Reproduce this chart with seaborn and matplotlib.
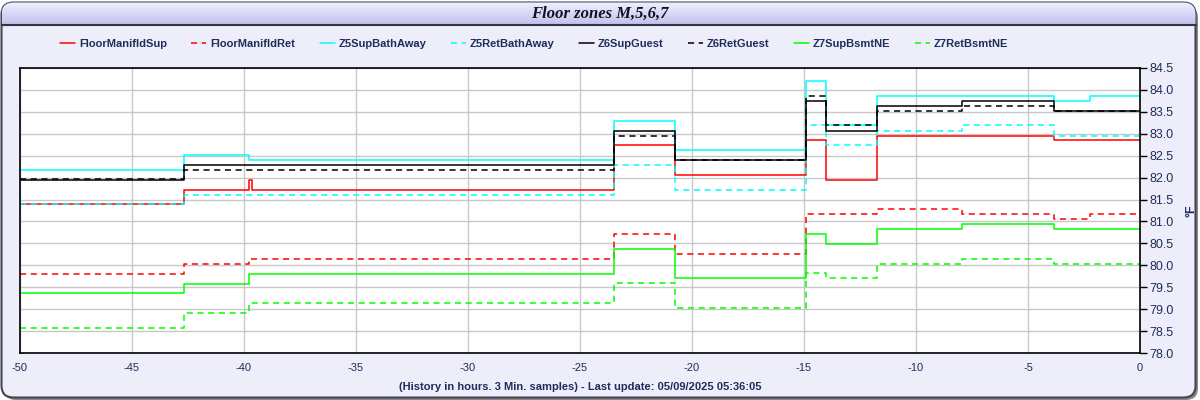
import numpy as np
import pandas as pd
import seaborn as sns
import matplotlib.pyplot as plt
from matplotlib.patches import FancyBboxPatch
from matplotlib.colors import LinearSegmentedColormap

# step breakpoints (hours before now)
hours = [-50, -42.67, -39.76, -39.66, -23.5, -20.76, -14.9, -14.0, -11.75, -7.96, -3.84, -2.24, 0]

floor_manifld_sup = [81.39, 81.72, 81.95, 81.72, 82.74, 82.07, 82.85, 81.95, 82.96, 82.96, 82.85, 82.85, 82.85]
floor_manifld_ret = [79.81, 80.04, 80.15, 80.15, 80.71, 80.26, 81.16, 81.16, 81.28, 81.16, 81.05, 81.16, 81.16]
z5_sup_bath_away = [82.17, 82.51, 82.41, 82.41, 83.30, 82.62, 84.21, 83.19, 83.87, 83.87, 83.75, 83.87, 83.87]
z5_ret_bath_away = [81.39, 81.61, 81.61, 81.61, 82.29, 81.72, 83.19, 82.74, 83.07, 83.19, 82.96, 82.96, 82.96]
z6_sup_guest = [81.95, 82.29, 82.29, 82.29, 83.07, 82.41, 83.75, 83.07, 83.64, 83.75, 83.53, 83.53, 83.53]
z6_ret_guest = [81.97, 82.17, 82.17, 82.17, 82.96, 82.41, 83.87, 83.19, 83.53, 83.64, 83.53, 83.53, 83.53]
z7_sup_bsmt_ne = [79.36, 79.58, 79.81, 79.81, 80.37, 79.70, 80.71, 80.49, 80.83, 80.94, 80.83, 80.83, 80.83]
z7_ret_bsmt_ne = [78.58, 78.91, 79.13, 79.13, 79.59, 79.02, 79.82, 79.70, 80.04, 80.15, 80.04, 80.04, 80.04]

series_names = ["FloorManifldSup", "FloorManifldRet", "Z5SupBathAway", "Z5RetBathAway",
                "Z6SupGuest", "Z6RetGuest", "Z7SupBsmtNE", "Z7RetBsmtNE"]
series_values = [floor_manifld_sup, floor_manifld_ret, z5_sup_bath_away, z5_ret_bath_away,
                 z6_sup_guest, z6_ret_guest, z7_sup_bsmt_ne, z7_ret_bsmt_ne]
colors = ["#ff0000", "#ff0000", "#00ffff", "#00ffff", "#000000", "#000000", "#00ff00", "#00ff00"]

x_ticks = list(range(-50, 1, 5))
y_ticks = [78.0 + 0.5 * i for i in range(14)]

frames = []
for name, vals in zip(series_names, series_values):
    frames.append(pd.DataFrame({"hours": hours, "temp": vals, "series": name}))
df = pd.concat(frames, ignore_index=True)

sns.set_style("white")
plt.rcParams['font.family'] = ['Liberation Sans', 'DejaVu Sans']
plt.rcParams['axes.unicode_minus'] = False

navy = "#1f2d5a"
bg = "#eeeefa"

fig = plt.figure(figsize=(12, 4), dpi=100)
fig.patch.set_facecolor("white")

# card background with header
bga = fig.add_axes([0, 0, 1, 1], zorder=-5)
bga.set_xlim(0, 1200)
bga.set_ylim(0, 400)
bga.axis("off")
shadow = FancyBboxPatch((4, 0), 1194, 394, boxstyle="round,pad=0,rounding_size=12",
                        facecolor="#888888", edgecolor="none")
bga.add_patch(shadow)
card = FancyBboxPatch((1.5, 2.5), 1194, 395, boxstyle="round,pad=0,rounding_size=12",
                      facecolor=bg, edgecolor="#444455", linewidth=1.5)
bga.add_patch(card)
grad = np.linspace(0, 1, 50).reshape(-1, 1)
hcmap = LinearSegmentedColormap.from_list("hdr", ["#c0c0ec", "#d8d8f6", "#f0f0ff"])
im = bga.imshow(grad, extent=(1.5, 1195.5, 375, 397.5), origin="lower", cmap=hcmap,
                aspect="auto", zorder=1)
im.set_clip_path(card)
bga.plot([1.5, 1195.5], [375, 375], color="#333344", lw=1.5, zorder=2)
bga.text(600, 386.5, "Floor zones M,5,6,7", ha="center", va="center", fontsize=12,
         fontweight="bold", fontstyle="italic", family=["Liberation Serif", "DejaVu Serif"],
         color="#111122", zorder=3)

ax = fig.add_axes([20 / 1200, 1 - 353 / 400, 1120 / 1200, 285 / 400])
ax.set_facecolor("white")

palette = dict(zip(series_names, colors))
dashes = {n: ("" if i % 2 == 0 else (4, 3)) for i, n in enumerate(series_names)}
sns.lineplot(data=df, x="hours", y="temp", hue="series", style="series",
             palette=palette, dashes=dashes, hue_order=series_names,
             drawstyle="steps-post", linewidth=1.1, ax=ax, legend=True)

ax.set_xlim(-50, 0)
ax.set_ylim(78.0, 84.5)
ax.set_xticks(x_ticks)
ax.set_yticks(y_ticks)
ax.set_yticklabels([f"{v:.1f}" for v in y_ticks])
ax.grid(True, color="#c8c8c8", linewidth=1)
ax.set_axisbelow(True)
ax.yaxis.tick_right()
ax.yaxis.set_label_position("right")
ax.tick_params(axis="y", labelsize=9, colors="black", labelcolor=navy, length=5, width=1,
               direction="out", pad=2)
ax.tick_params(axis="x", labelsize=8, colors="black", labelcolor=navy, length=5, width=1,
               direction="out", pad=2)
for s in ax.spines.values():
    s.set_color("black")
    s.set_linewidth(1.2)
ax.set_ylabel("°F", fontsize=9, fontweight="bold", color=navy, labelpad=8)
ax.set_xlabel("(History in hours. 3 Min. samples) - Last update: 05/09/2025 05:36:05",
              fontsize=8, fontweight="bold", color=navy, labelpad=7)

handles, labels = ax.get_legend_handles_labels()
ax.get_legend().remove()
leg = fig.legend(handles, labels, loc="center left", bbox_to_anchor=(50 / 1200, 1 - 44 / 400),
                 ncol=8, frameon=False, handlelength=1.35, columnspacing=2.2,
                 handletextpad=0.35, prop={"size": 8, "weight": "bold"})
for t in leg.get_texts():
    t.set_color(navy)

fig.savefig("out.png", dpi=100, facecolor=fig.get_facecolor())
